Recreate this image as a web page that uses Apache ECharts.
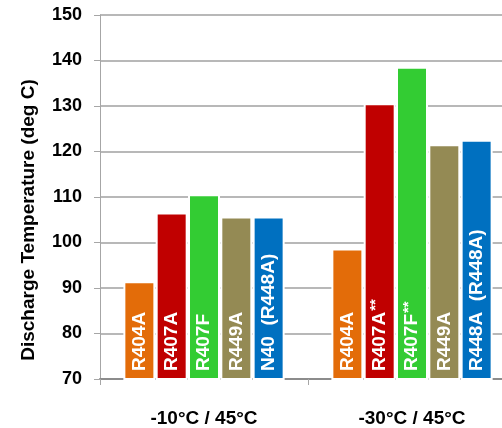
<!DOCTYPE html>
<html>
<head>
<meta charset="utf-8">
<script src="https://cdn.jsdelivr.net/npm/echarts@6/dist/echarts.min.js"></script>
<style>
  html, body { margin: 0; padding: 0; background: #fff; overflow: hidden; width: 502px; height: 428px; }
  #chart { width: 516px; height: 428px; }
</style>
</head>
<body>
<div id="chart"></div>
<script>
// ---- data ----
const categories = ['-10°C / 45°C', '-30°C / 45°C'];
const seriesNames = ['R404A', 'R407A', 'R407F', 'R449A', 'R448A'];
const r404a = [91.5, 98.7];
const r407a = [106.6, 130.6];
const r407f = [110.6, 138.6];
const r449a = [105.7, 121.6];
const r448a = [105.7, 122.6];
const barNames = [
  ['R404A', 'R404A'],
  ['R407A', 'R407A'],
  ['R407F', 'R407F'],
  ['R449A', 'R449A'],
  ['N40  (R448A)', 'R448A  (R448A)']
];
const barMarks = [
  ['', ''],
  ['', '**'],
  ['', '**'],
  ['', ''],
  ['', '']
];
const yMin = 70, yMax = 150, yStep = 10;
const yTitle = 'Discharge Temperature (deg C)';

// ---- styles ----
const colors = ['#E36C09', '#C00000', '#33CC33', '#948A54', '#0070C0'];
const values = [r404a, r407a, r407f, r449a, r448a];
const font = '"Liberation Sans", Arial, sans-serif';

const series = values.map((vals, si) => ({
  name: seriesNames[si],
  type: 'bar',
  data: vals,
  barWidth: 32,
  barGap: '1%',
  itemStyle: { color: colors[si], borderColor: '#ffffff', borderWidth: 2 },
  label: {
    show: true,
    position: 'insideBottom',
    rotate: 90,
    align: 'left',
    verticalAlign: 'middle',
    distance: 9,
    formatter: p => {
      const m = barMarks[si][p.dataIndex];
      return '{a|' + barNames[si][p.dataIndex] + '}' + (m ? '{s|' + m + '}' : '');
    },
    rich: {
      a: { color: '#fff', fontFamily: font, fontWeight: 'bold', fontSize: 19, lineHeight: 22 },
      s: { color: '#fff', fontFamily: font, fontWeight: 'bold', fontSize: 15, lineHeight: 22, verticalAlign: 'top', padding: [0, 0, 8, 1] }
    }
  }
}));

const chart = echarts.init(document.getElementById('chart'), null, { renderer: 'canvas', width: 516, height: 428 });
chart.setOption({
  animation: false,
  backgroundColor: '#ffffff',
  grid: { left: 100, right: 0, top: 15, bottom: 49, containLabel: false },
  xAxis: {
    type: 'category',
    data: categories,
    axisLine: { show: true, lineStyle: { color: '#8c8c8c', width: 2 } },
    axisTick: { show: true, length: 6, lineStyle: { color: '#a6a6a6', width: 1 } },
    axisLabel: {
      color: '#000', fontFamily: font, fontWeight: 'bold', fontSize: 19, margin: 30
    },
    splitLine: { show: false }
  },
  yAxis: {
    type: 'value',
    min: yMin, max: yMax, interval: yStep,
    axisLine: { show: true, lineStyle: { color: '#a6a6a6', width: 1 } },
    axisTick: { show: true, length: 6, lineStyle: { color: '#a6a6a6', width: 1 } },
    axisLabel: { color: '#000', fontFamily: font, fontWeight: 'bold', fontSize: 18, margin: 18 },
    splitLine: { show: true, lineStyle: { color: '#a0a0a0', width: 1.5 } }
  },
  graphic: [{
    type: 'text',
    x: 29, y: 220,
    rotation: Math.PI / 2,
    style: {
      text: yTitle, fill: '#000',
      font: 'bold 19px ' + font,
      align: 'center', verticalAlign: 'middle'
    }
  }],
  series: series
});
</script>
</body>
</html>
